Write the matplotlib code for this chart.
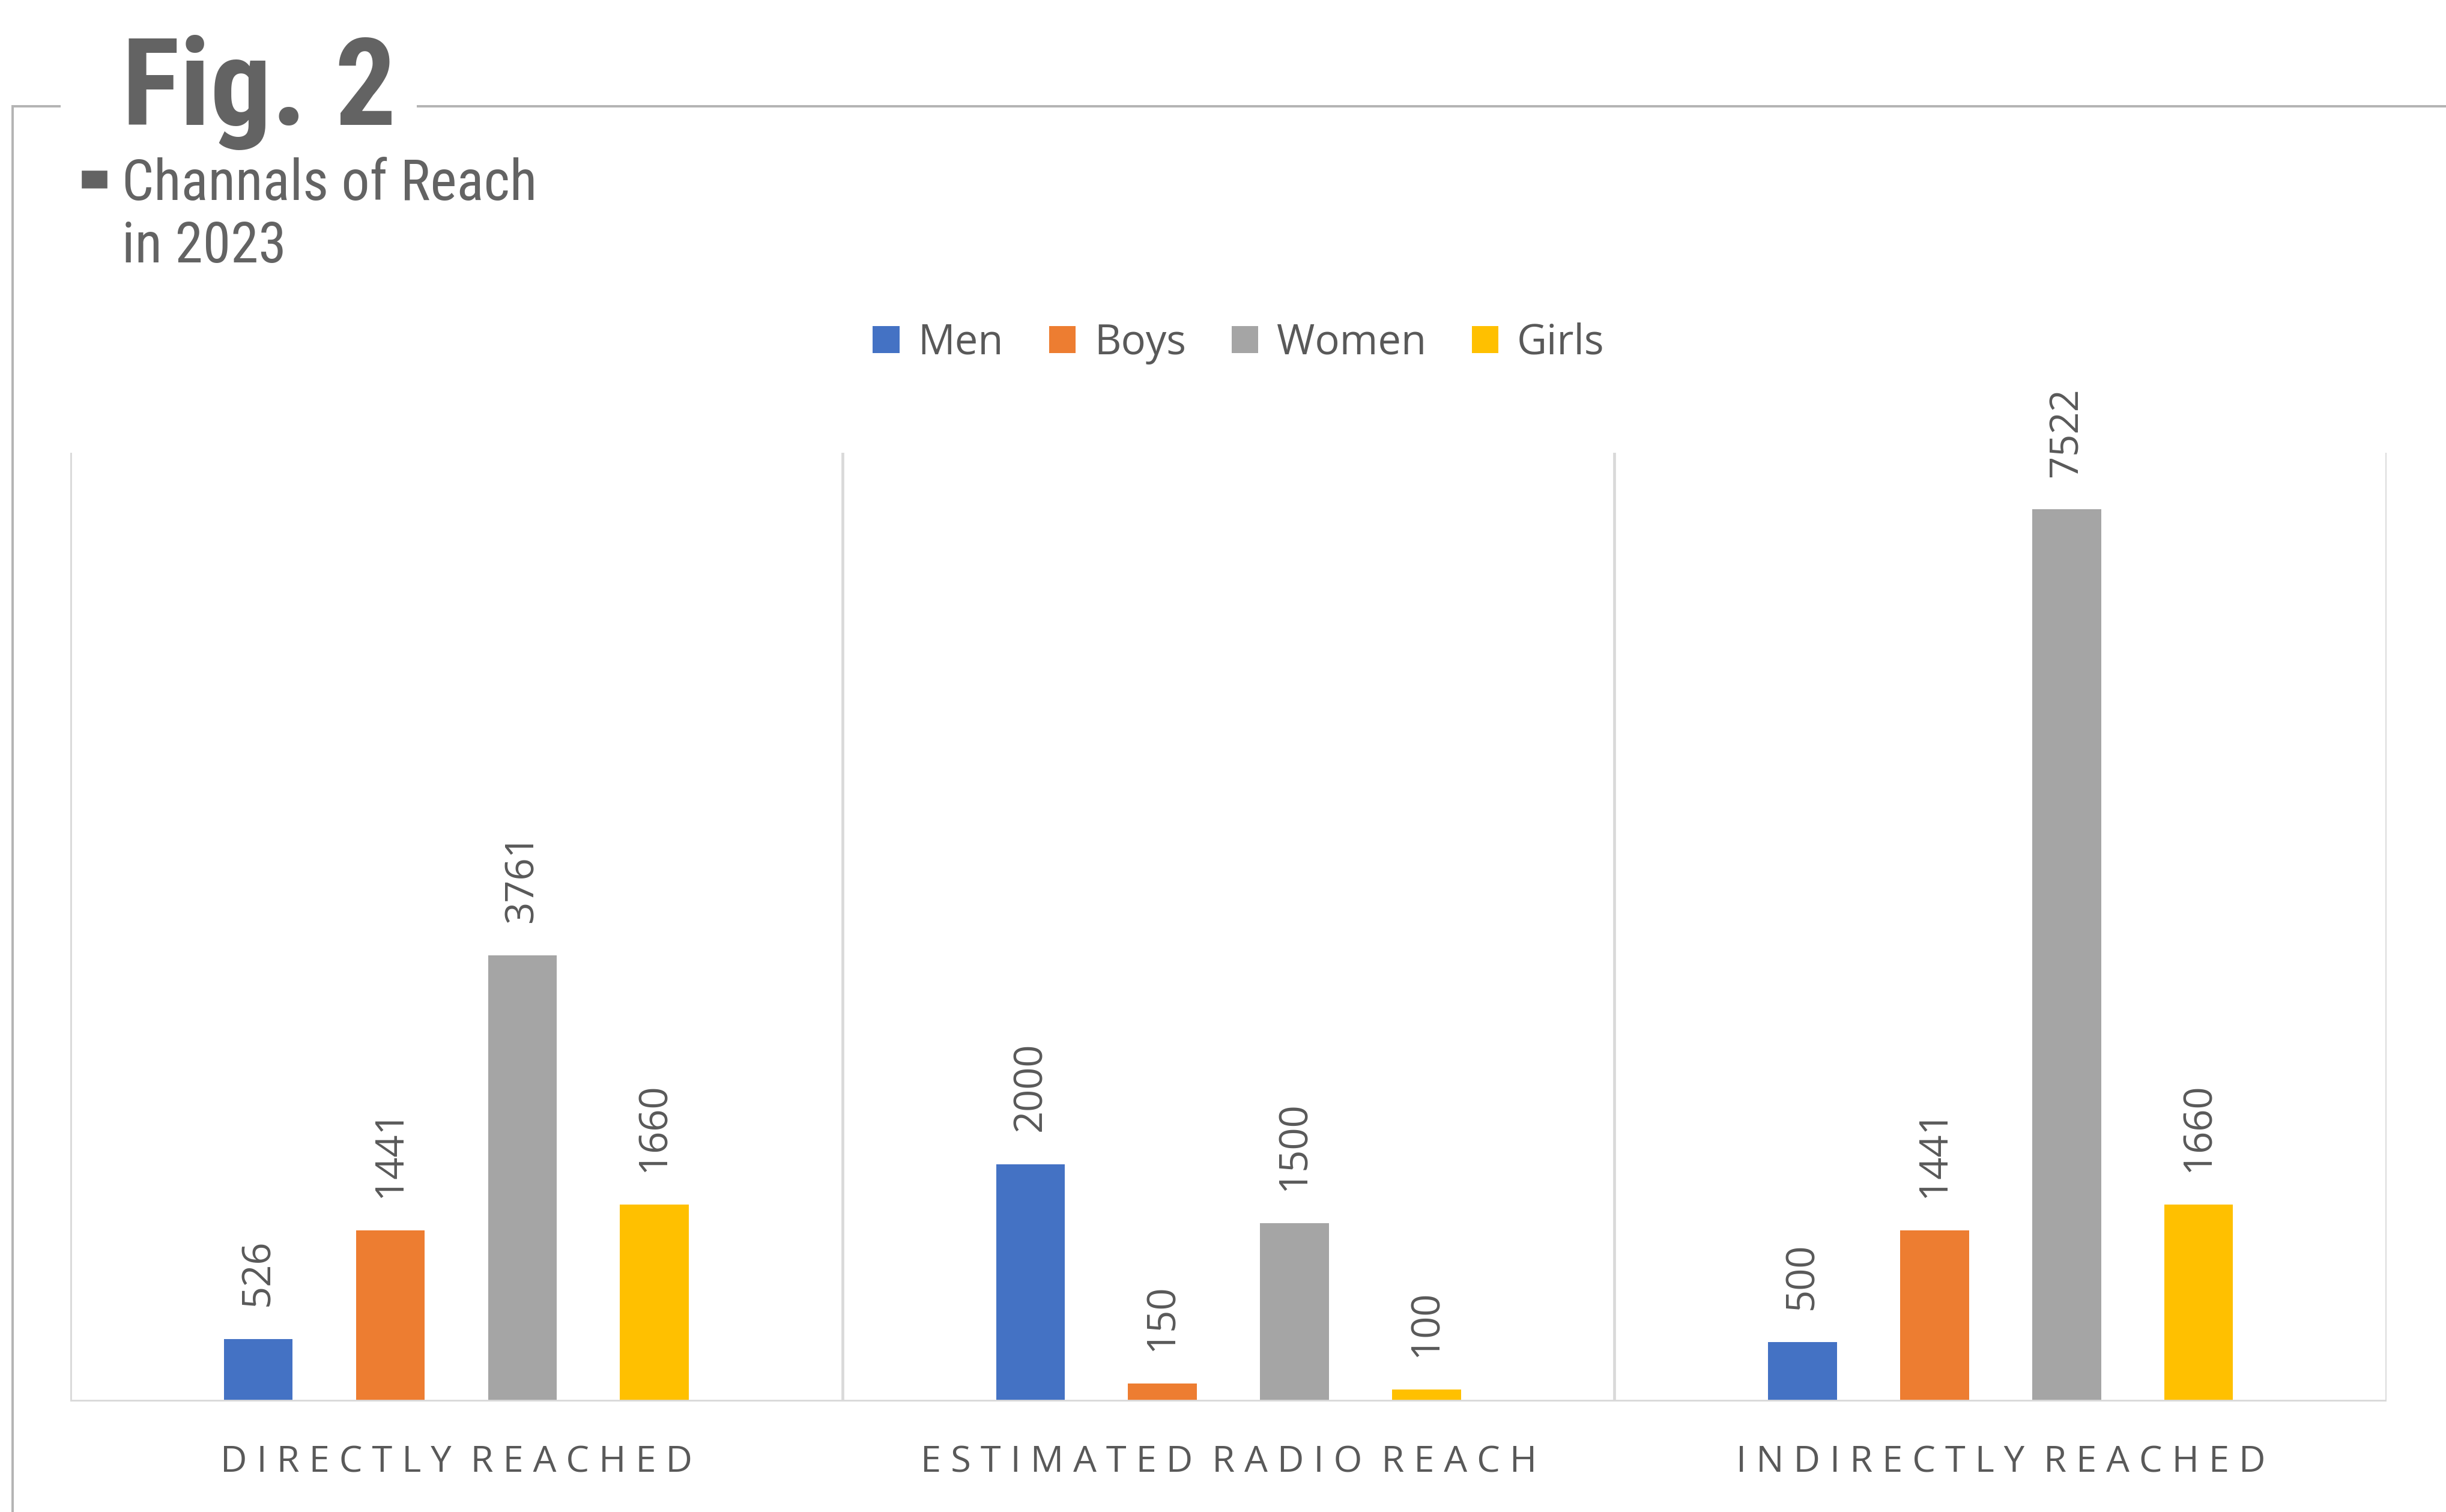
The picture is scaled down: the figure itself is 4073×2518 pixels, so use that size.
import matplotlib
matplotlib.use("Agg")
import matplotlib.pyplot as plt
import numpy as np
from matplotlib.lines import Line2D
from matplotlib.patches import Rectangle

categories = ["DIRECTLY REACHED", "ESTIMATED RADIO REACH", "INDIRECTLY REACHED"]
series_names = ["Men", "Boys", "Women", "Girls"]
men = [526, 2000, 500]
boys = [1441, 150, 1441]
women = [3761, 1500, 7522]
girls = [1660, 100, 1660]

colors = ["#4472C4", "#ED7D31", "#A5A5A5", "#FFC000"]
text_gray = "#595959"
title_gray = "#636363"
grid_gray = "#D9D9D9"
frame_gray = "#B4B4B4"

plt.rcParams["font.family"] = ["Open Sans", "DejaVu Sans"]

W, H = 1568, 969  # layout units (reference thumbnail pixels)
fig = plt.figure(figsize=(4073 / 260, 2518 / 260), dpi=260)
fig.patch.set_facecolor("white")


def fx(x):
    return x / W


def fy(y):
    return 1 - y / H


# outer frame around the chart
for xs, ys in [([8, 8], [68, H]), ([8, 38], [68, 68]), ([268, W], [68, 68])]:
    fig.add_artist(Line2D([fx(v) for v in xs], [fy(v) for v in ys],
                          color=frame_gray, lw=1.1, transform=fig.transFigure))

# heading block
cond = ["Roboto Condensed", "Liberation Sans Narrow", "DejaVu Sans"]
fig.text(fx(78), fy(80), "Fig. 2", family=cond, fontweight="bold",
         fontstretch="condensed", fontsize=56, color=title_gray,
         ha="left", va="baseline")
fig.add_artist(Rectangle((fx(53), fy(120)), fx(15), 10 / H,
                         color=title_gray, transform=fig.transFigure))
fig.text(fx(78), fy(128), "Channals of Reach", family=cond,
         fontstretch="condensed", fontsize=26, color=title_gray,
         ha="left", va="baseline")
fig.text(fx(78), fy(168), "in 2023", family=cond,
         fontstretch="condensed", fontsize=26, color=title_gray,
         ha="left", va="baseline")

ax = fig.add_axes([fx(45), fy(898), fx(1530 - 45), (898 - 290) / H])

x = np.arange(len(categories))
step = 0.171
bar_w = 0.089
all_series = [men, boys, women, girls]
for i, (name, vals, c) in enumerate(zip(series_names, all_series, colors)):
    pos = x + (i - 1.5) * step
    ax.bar(pos, vals, width=bar_w, color=c, label=name, zorder=3)
    for px, v in zip(pos, vals):
        ax.annotate(str(v), (px, v), xytext=(0, 15), textcoords="offset points",
                    rotation=90, ha="center", va="bottom",
                    fontsize=18, color=text_gray)

ax.set_xlim(-0.5, 2.5)
ax.set_ylim(0, 8000)
for b in [-0.5, 0.5, 1.5, 2.5]:
    ax.axvline(b, color=grid_gray, lw=1.3, zorder=1)
ax.axhline(0, color=grid_gray, lw=1.6, zorder=4)

for s in ax.spines.values():
    s.set_visible(False)
ax.set_yticks([])
spaced = ["  ".join(" ".join(w) for w in c.split()) for c in categories]
ax.set_xticks(x, spaced)
ax.tick_params(axis="x", length=0, pad=20, labelsize=17, labelcolor=text_gray)

leg = fig.legend(loc="center", bbox_to_anchor=(fx(794), fy(220)), ncol=4,
                 frameon=False, fontsize=19, labelcolor=text_gray,
                 handlelength=0.65, handleheight=0.65, handletextpad=0.45,
                 columnspacing=1.1)

fig.savefig("out.png", dpi=260, facecolor="white")
